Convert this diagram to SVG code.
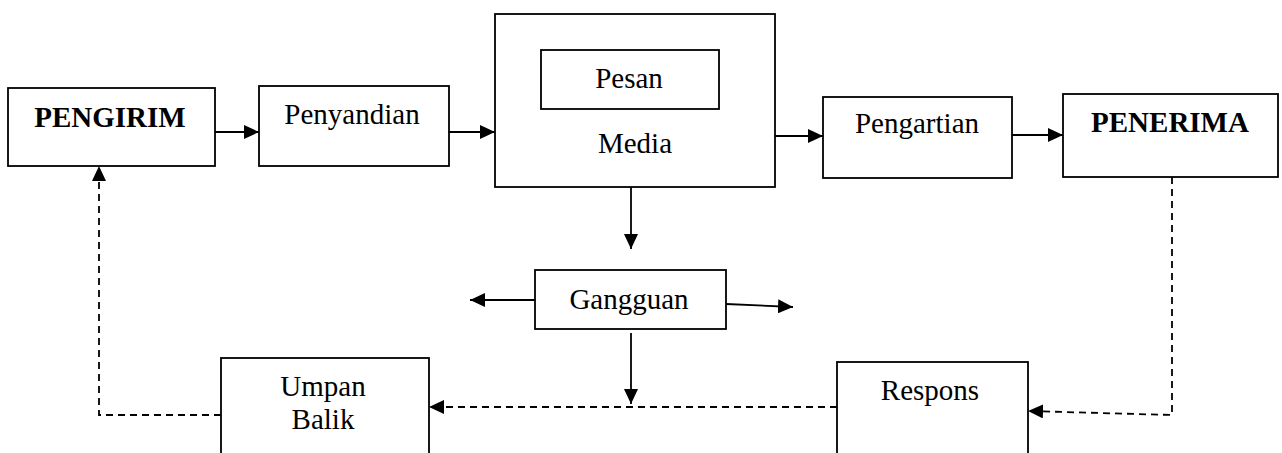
<svg xmlns="http://www.w3.org/2000/svg" width="1282" height="453" viewBox="0 0 1282 453">
<style>
.box{fill:#ffffff;stroke:#000;stroke-width:1.8}
.t{font-family:"Liberation Serif","Times New Roman",serif;font-size:29px;fill:#000;text-anchor:middle}
.b{font-weight:bold}
.ln{fill:none;stroke:#000;stroke-width:1.8}
.dash{fill:none;stroke:#000;stroke-width:1.8;stroke-dasharray:7 5}
</style>
<defs>
<marker id="ah" markerUnits="userSpaceOnUse" markerWidth="15" markerHeight="14" refX="15" refY="7" orient="auto">
<path d="M0,0 L15,7 L0,14 z" fill="#000"/>
</marker>
</defs>
<rect width="1282" height="453" fill="#ffffff"/>
<g id="pengirim"><rect class="box" x="8" y="88" width="207" height="78"/><text class="t b" x="110" y="127">PENGIRIM</text></g>
<g id="penyandian"><rect class="box" x="259" y="86" width="190" height="80"/><text class="t" x="352" y="124">Penyandian</text></g>
<g id="media"><rect class="box" x="495" y="14" width="280" height="173"/><text class="t" x="635" y="153">Media</text></g>
<g id="pesan"><rect class="box" x="541" y="50" width="178" height="59"/><text class="t" x="629" y="88">Pesan</text></g>
<g id="pengartian"><rect class="box" x="823" y="97" width="189" height="81"/><text class="t" x="917" y="133">Pengartian</text></g>
<g id="penerima"><rect class="box" x="1063" y="94" width="215" height="83"/><text class="t b" x="1170" y="132">PENERIMA</text></g>
<g id="gangguan"><rect class="box" x="535" y="270" width="191" height="59"/><text class="t" x="629" y="309">Gangguan</text></g>
<g id="umpanbalik"><rect class="box" x="221" y="358" width="208" height="120"/><text class="t" x="323" y="396">Umpan</text><text class="t" x="323" y="429">Balik</text></g>
<g id="respons"><rect class="box" x="837" y="362" width="191" height="120"/><text class="t" x="930" y="400">Respons</text></g>
<g id="connectors">
<line class="ln" x1="215" y1="132" x2="259" y2="132" marker-end="url(#ah)"/>
<line class="ln" x1="449" y1="132" x2="495" y2="132" marker-end="url(#ah)"/>
<line class="ln" x1="775" y1="136" x2="823" y2="136" marker-end="url(#ah)"/>
<line class="ln" x1="1012" y1="135" x2="1063" y2="135" marker-end="url(#ah)"/>
<line class="ln" x1="631" y1="187" x2="631" y2="249" marker-end="url(#ah)"/>
<line class="ln" x1="535" y1="300" x2="470" y2="300" marker-end="url(#ah)"/>
<line class="ln" x1="726" y1="304" x2="793" y2="307" marker-end="url(#ah)"/>
<line class="ln" x1="631" y1="333" x2="631" y2="404" marker-end="url(#ah)"/>
<polyline class="dash" points="1172,177 1172,415 1028,411" marker-end="url(#ah)"/>
<line class="dash" x1="837" y1="407" x2="429" y2="407" marker-end="url(#ah)"/>
<polyline class="dash" points="221,415 99,415 99,166" marker-end="url(#ah)"/>
</g>
</svg>
